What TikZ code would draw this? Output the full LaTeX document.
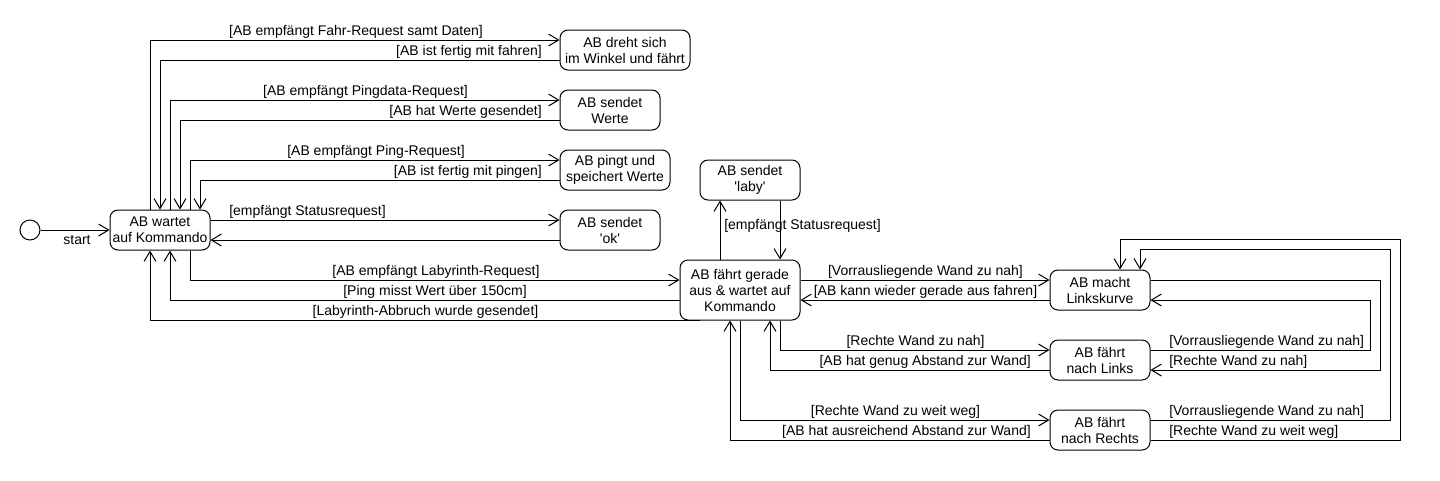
\documentclass[tikz,border=0pt]{standalone}
\usepackage{fontspec}
\setmainfont{Liberation Sans}
\usetikzlibrary{arrows.meta,calc}
\begin{document}
\begin{tikzpicture}[x=0.75pt,y=-0.75pt,
  font=\fontsize{10.5}{12}\selectfont,
  state/.style={draw,rounded corners=6pt,line width=0.75pt,align=center,inner sep=0pt,minimum height=30pt,minimum width=75pt},
  arr/.style={line width=0.75pt,-{Straight Barb[length=7.5pt,width=9pt]}},
  lbl/.style={inner sep=0pt}]
\fill[white] (0,0) rectangle (1440,480);
\useasboundingbox (0,0) rectangle (1440,480);

% states
\node[draw,circle,minimum size=15pt,inner sep=0pt,line width=0.75pt] (start) at (30,230) {};
\node[state] (wartet) at (160,230) {AB wartet\\auf Kommando};
\node[state,minimum width=97.5pt] (fahr) at (625,50) {AB dreht sich\\im Winkel und fährt};
\node[state] (werte) at (610,110) {AB sendet\\Werte};
\node[state,minimum width=82.5pt] (ping) at (615,170) {AB pingt und\\speichert Werte};
\node[state] (ok) at (610,230) {AB sendet\\\textquotesingle ok\textquotesingle};
\node[state] (laby) at (750,180) {AB sendet\\\textquotesingle laby\textquotesingle};
\node[state,minimum width=90pt,minimum height=45pt] (main) at (740,290) {AB fährt gerade\\aus \& wartet auf\\Kommando};
\node[state] (lk) at (1100,290) {AB macht\\Linkskurve};
\node[state] (nl) at (1100,360) {AB fährt\\nach Links};
\node[state] (nr) at (1100,430) {AB fährt\\nach Rechts};

% connectors
\draw[arr] (start) -- (wartet.west);
\draw[arr] ($(wartet.north)+(-10,0)$) |- ($(fahr.west)+(0,-10)$);
\draw[arr] ($(fahr.west)+(0,10)$) -| (wartet.north);
\draw[arr] ($(wartet.north)+(10,0)$) |- ($(werte.west)+(0,-10)$);
\draw[arr] ($(werte.west)+(0,10)$) -| ($(wartet.north)+(20,0)$);
\draw[arr] ($(wartet.north)+(30,0)$) |- ($(ping.west)+(0,-10)$);
\draw[arr] ($(ping.west)+(0,10)$) -| ($(wartet.north)+(40,0)$);
\draw[arr] ($(wartet.east)+(0,-10)$) -- ($(ok.west)+(0,-10)$);
\draw[arr] ($(ok.west)+(0,10)$) -- ($(wartet.east)+(0,10)$);
\draw[arr] ($(wartet.south)+(30,0)$) |- ($(main.west)+(0,-10)$);
\draw[arr] ($(main.west)+(0,10)$) -| ($(wartet.south)+(10,0)$);
\draw[arr] ($(main.south)+(-40,0)$) -| ($(wartet.south)+(-10,0)$);
\draw[arr] ($(main.north)+(-20,0)$) -- ($(laby.south)+(-30,0)$);
\draw[arr] ($(laby.south)+(30,0)$) -- ($(main.north)+(40,0)$);
\draw[arr] ($(main.east)+(0,-10)$) -- ($(lk.west)+(0,-10)$);
\draw[arr] ($(lk.west)+(0,10)$) -- ($(main.east)+(0,10)$);
\draw[arr] ($(main.south)+(40,0)$) |- ($(nl.west)+(0,-10)$);
\draw[arr] ($(nl.west)+(0,10)$) -| ($(main.south)+(30,0)$);
\draw[arr] (main.south) |- ($(nr.west)+(0,-10)$);
\draw[arr] ($(nr.west)+(0,10)$) -| ($(main.south)+(-10,0)$);
\draw[arr] ($(lk.east)+(0,-10)$) -- ++(230,0) |- ($(nl.east)+(0,10)$);
\draw[arr] ($(nl.east)+(0,-10)$) -- ++(220,0) |- ($(lk.east)+(0,10)$);
\draw[arr] ($(nr.east)+(0,-10)$) -- ++(240,0) |- ($(lk.north)+(40,-20)$) -- ($(lk.north)+(40,0)$);
\draw[arr] ($(nr.east)+(0,10)$) -- ++(250,0) |- ($(lk.north)+(20,-30)$) -- ($(lk.north)+(20,0)$);

% labels
\node[lbl,anchor=base] (t0) at (77,244) {start};
\node[lbl,anchor=base] (t1) at (356,35) {[AB empfängt Fahr-Request samt Daten]};
\node[lbl,anchor=base east] (t2) at (542,55) {[AB ist fertig mit fahren]};
\node[lbl,anchor=base] (t3) at (365.5,95) {[AB empfängt Pingdata-Request]};
\node[lbl,anchor=base east] (t4) at (542,115) {[AB hat Werte gesendet]};
\node[lbl,anchor=base] (t5) at (376,155) {[AB empfängt Ping-Request]};
\node[lbl,anchor=base east] (t6) at (542,175) {[AB ist fertig mit pingen]};
\node[lbl,anchor=base west] (t7) at (229,215) {[empfängt Statusrequest]};
\node[lbl,anchor=base] (t8) at (436,275) {[AB empfängt Labyrinth-Request]};
\node[lbl,anchor=base] (t9) at (435,295) {[Ping misst Wert über 150cm]};
\node[lbl,anchor=base] (t10) at (425.5,315) {[Labyrinth-Abbruch wurde gesendet]};
\node[lbl,anchor=base west] (t11) at (724,229) {[empfängt Statusrequest]};
\node[lbl,anchor=base] (t12) at (925.5,275) {[Vorrausliegende Wand zu nah]};
\node[lbl,anchor=base] (t13) at (925.5,295) {[AB kann wieder gerade aus fahren]};
\node[lbl,anchor=base] (t14) at (915.5,345) {[Rechte Wand zu nah]};
\node[lbl,anchor=base east] (t15) at (1031,365) {[AB hat genug Abstand zur Wand]};
\node[lbl,anchor=base] (t16) at (895.5,415) {[Rechte Wand zu weit weg]};
\node[lbl,anchor=base east] (t17) at (1031,435) {[AB hat ausreichend Abstand zur Wand]};
\node[lbl,anchor=base west] (t18) at (1169,345) {[Vorrausliegende Wand zu nah]};
\node[lbl,anchor=base west] (t19) at (1169,365) {[Rechte Wand zu nah]};
\node[lbl,anchor=base west] (t20) at (1169,415) {[Vorrausliegende Wand zu nah]};
\node[lbl,anchor=base west] (t21) at (1169,435) {[Rechte Wand zu weit weg]};
\end{tikzpicture}
\end{document}
